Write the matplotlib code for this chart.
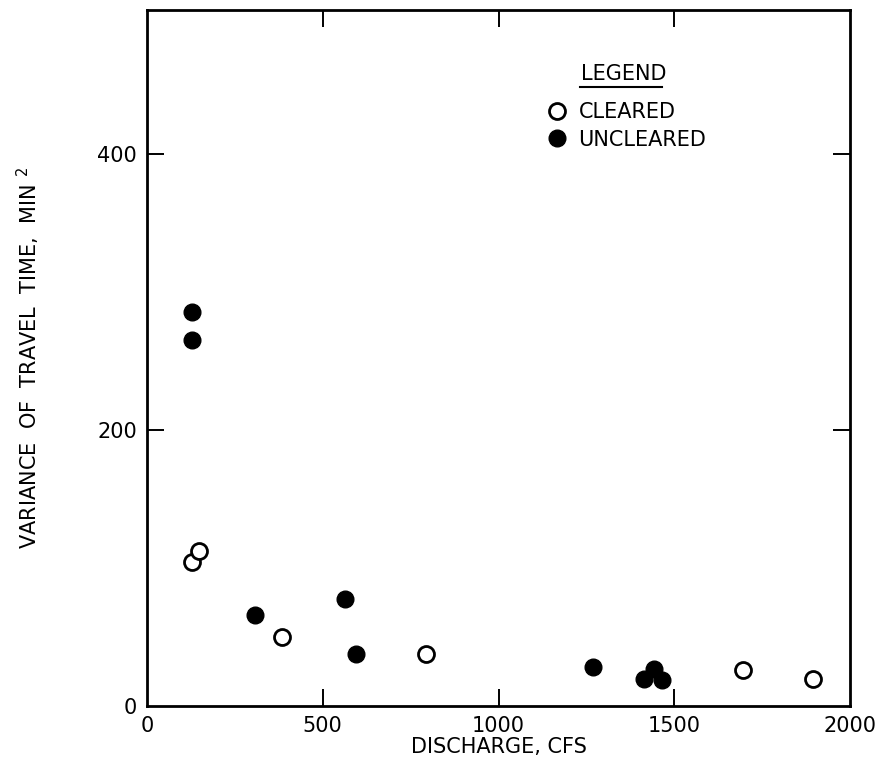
import matplotlib
matplotlib.use("Agg")
import matplotlib.pyplot as plt
from matplotlib.lines import Line2D

plt.rcParams['font.family'] = ['DejaVu Sans']
plt.rcParams['mathtext.default'] = 'regular'

# Data (discharge in cfs, variance in min^2)
cleared_x = [128, 148, 385, 793, 1695, 1894]
cleared_y = [104, 112, 50, 37.5, 26, 19.5]
uncleared_x = [127, 129, 308, 562, 596, 1270, 1415, 1441, 1464]
uncleared_y = [285, 265, 66, 77.5, 37.5, 28, 19.5, 27, 19]

xticks = [0, 500, 1000, 1500, 2000]
yticks = [0, 200, 400]

fig = plt.figure(figsize=(8.8, 7.64), dpi=100)
ax = fig.add_axes([0.167, 0.076, 0.799, 0.911])

ax.plot(cleared_x, cleared_y, 'o', ms=11.5, mfc='white', mec='black', mew=2.0,
        linestyle='none', label='CLEARED')
ax.plot(uncleared_x, uncleared_y, 'o', ms=12, mfc='black', mec='black',
        linestyle='none', label='UNCLEARED')

ax.set_xlim(0, 2000)
ax.set_ylim(0, 504)
ax.set_xticks(xticks)
ax.set_xticklabels([str(v) for v in xticks])
ax.set_yticks(yticks)
ax.set_yticklabels([str(v) for v in yticks])

ax.tick_params(direction='in', length=12, width=1.4, labelsize=15,
               top=True, right=True, pad=7)
for t in ax.xaxis.get_major_ticks():
    if t.get_loc() in (0, 2000):
        t.tick1line.set_visible(False)
        t.tick2line.set_visible(False)
for t in ax.yaxis.get_major_ticks():
    if t.get_loc() == 0:
        t.tick1line.set_visible(False)
        t.tick2line.set_visible(False)

for s in ax.spines.values():
    s.set_linewidth(2.0)

ax.set_xlabel('DISCHARGE, CFS', fontsize=15, labelpad=1)
ax.set_ylabel('VARIANCE  OF  TRAVEL  TIME,  MIN $^{2}$', fontsize=15, labelpad=40)

# Legend
ax.text(0.617, 0.908, 'LEGEND', transform=ax.transAxes, fontsize=15,
        ha='left', va='center')
ax.add_line(Line2D([0.616, 0.733], [0.889, 0.889], transform=ax.transAxes,
                   color='black', lw=1.5))
leg = ax.legend(loc='upper left', bbox_to_anchor=(0.568, 0.868), frameon=False,
                fontsize=15, handletextpad=0.55, labelspacing=0.38,
                handlelength=1.0, borderpad=0, borderaxespad=0)

fig.savefig('out.png', dpi=100)
